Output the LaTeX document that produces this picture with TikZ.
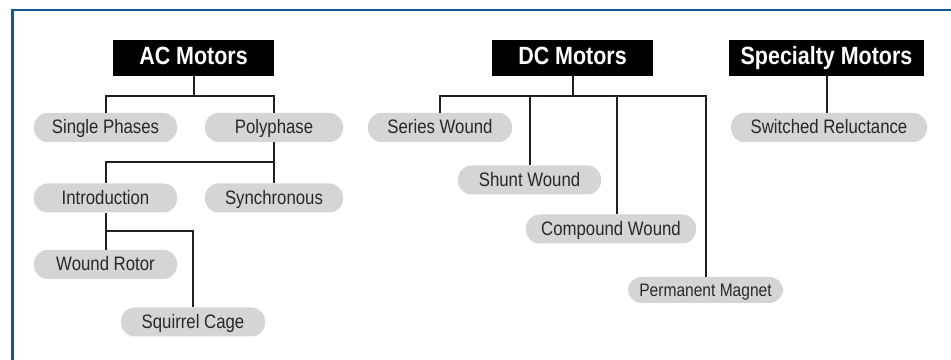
\documentclass[tikz,border=0pt]{standalone}
\usepackage{fontspec}
\setmainfont{Liberation Sans}[FakeStretch=0.86]
\definecolor{frameblue}{RGB}{14,88,152}
\definecolor{pillgray}{RGB}{212,213,215}
\definecolor{linegray}{RGB}{35,31,32}
\definecolor{textgray}{RGB}{40,40,40}
\begin{document}
\begin{tikzpicture}[
    header/.style={fill=black,text=white,minimum height=0.72cm,inner sep=0pt,text height=0.9em,text depth=0.18em,font=\fontsize{14.2}{16}\selectfont\bfseries},
    pill/.style={fill=pillgray,text=textgray,rounded corners=0.27cm,minimum height=0.58cm,minimum width=2.86cm,inner sep=0pt,text height=0.9em,text depth=0.18em,font=\fontsize{11.1}{13}\selectfont},
    link/.style={draw=linegray,line width=0.04cm}]
    \useasboundingbox (0,0) rectangle (19.02,-7.2);
    \draw[frameblue,line width=0.05cm] (0.25,-7.4) |- (19.3,-0.2);
    \node[header,minimum width=3.22cm] (ac) at (3.87,-1.16) {AC Motors};
    \node[header,minimum width=3.22cm] (dc) at (11.45,-1.16) {DC Motors};
    \node[header,minimum width=3.9cm] (spec) at (16.53,-1.16) {Specialty Motors};
    \node[pill] (single) at (2.11,-2.55) {Single Phases};
    \node[pill,minimum width=2.76cm] (poly) at (5.48,-2.55) {Polyphase};
    \node[pill] (intro) at (2.11,-3.96) {Introduction};
    \node[pill,minimum width=2.76cm] (sync) at (5.48,-3.96) {Synchronous};
    \node[pill] (wound) at (2.11,-5.29) {Wound Rotor};
    \node[pill,minimum width=2.88cm] (squirrel) at (3.86,-6.44) {Squirrel Cage};
    \node[pill,minimum width=2.88cm] (series) at (8.80,-2.55) {Series Wound};
    \node[pill] (shunt) at (10.59,-3.60) {Shunt Wound};
    \node[pill,minimum width=3.4cm] (compound) at (12.22,-4.58) {Compound Wound};
    \node[pill,minimum width=3.1cm,minimum height=0.52cm,font=\fontsize{10.3}{12}\selectfont] (permanent) at (14.11,-5.80) {Permanent Magnet};
    \node[pill,minimum width=3.92cm] (switched) at (16.58,-2.55) {Switched Reluctance};
    \draw[link] (single.north) |- ([yshift=-0.4cm]ac.south) -| (poly.north);
    \draw[link] (ac.south) -- ++(0,-0.4);
    \draw[link] (poly.south) -- (sync.north);
    \draw[link] (poly.south) ++(0,-0.4) -| (intro.north);
    \draw[link] (intro.south) -- (wound.north);
    \draw[link] (intro.south) ++(0,-0.37) -| (squirrel.north);
    \draw[link] (dc.south) -- ++(0,-0.4) coordinate (dcbar);
    \draw[link] (series.north) |- (dcbar) -| (permanent.north);
    \draw[link] (shunt.north) -- (shunt.north |- dcbar);
    \draw[link] ([xshift=0.12cm]compound.north) -- ([xshift=0.12cm]compound.north |- dcbar);
    \draw[link] (spec.south) -- (spec.south |- switched.north);
\end{tikzpicture}
\end{document}
